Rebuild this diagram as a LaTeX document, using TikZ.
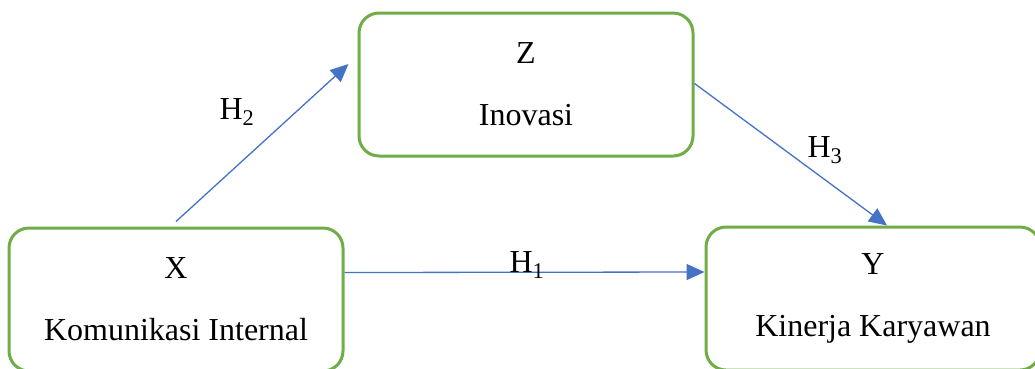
\documentclass[tikz,border=0pt]{standalone}
\usepackage{fontspec}
\setmainfont{Liberation Serif}
\usetikzlibrary{arrows.meta}
\definecolor{boxgreen}{HTML}{70AD47}
\definecolor{linkblue}{HTML}{4472C4}
\tikzset{
  varbox/.style={draw=boxgreen, line width=3pt, rounded corners=20pt,
    minimum width=334pt, minimum height=143pt, align=center, inner sep=0pt,
    font=\fontsize{32}{62}\selectfont},
  link/.style={draw=linkblue, line width=1.3pt,
    -{Triangle[length=18pt,width=16pt]}, fill=none},
  hyp/.style={font=\fontsize{32}{38}\selectfont, inner sep=0pt}
}
\begin{document}
\begin{tikzpicture}[x=1pt,y=-1pt]
  \useasboundingbox (0,0) rectangle (1035,368);
  \clip (0,0) rectangle (1035,368);
  \fill[white] (0,0) rectangle (1035,368);

  % variable boxes
  \node[varbox] (X) at (176,299.5) {X\\Komunikasi Internal};
  \node[varbox] (Z) at (526,84.5) {Z\\Inovasi};
  \node[varbox] (Y) at (873,298.5) {Y\\Kinerja Karyawan};

  % hypothesised paths
  \draw[link] ([yshift=5pt]X.north) -- ([xshift=-9pt,yshift=20.5pt]Z.west);
  \draw[link] ([yshift=1pt]Z.east) -- ([xshift=14pt]Y.north);
  \draw[link] ([yshift=27pt]X.east) -- ([yshift=26.5pt]Y.west);

  % path labels
  \node[hyp, anchor=base] (h2) at (237,119) {H\textsubscript{2}};
  \node[hyp, anchor=base] (h3) at (825,157) {H\textsubscript{3}};
  \node[hyp, anchor=base] (h1) at (527,272) {H\textsubscript{1}};
\end{tikzpicture}
\end{document}
